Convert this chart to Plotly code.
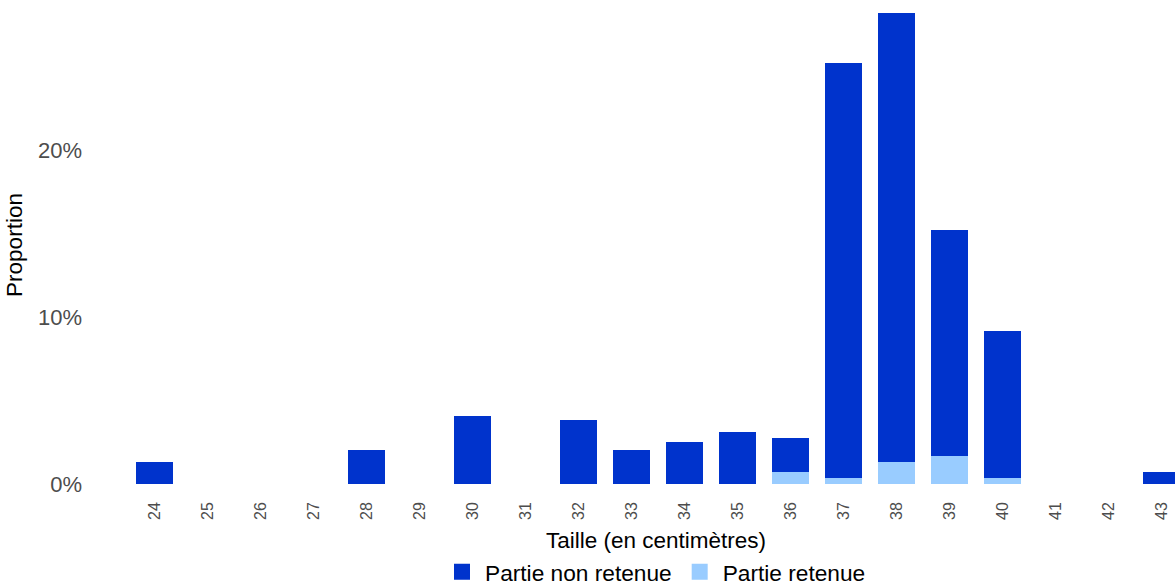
import plotly.graph_objects as go

# Sizes (cm) and proportions (%) per size class
tailles = [str(t) for t in range(24, 44)]
partie_non_retenue = [1.32, 0, 0, 0, 2.04, 0, 4.07, 0, 3.83, 2.04,
                      2.51, 3.11, 2.03, 24.84, 26.88, 13.52, 8.80, 0, 0, 0.72]
partie_retenue = [0, 0, 0, 0, 0, 0, 0, 0, 0, 0,
                  0, 0, 0.72, 0.36, 1.32, 1.68, 0.36, 0, 0, 0]
y_ticks = [0, 10, 20]
y_tick_labels = ["0%", "10%", "20%"]

dark = "#0033CC"
light = "#99CCFF"
font = "Liberation Sans, Arial, sans-serif"

fig = go.Figure()
fig.add_trace(go.Bar(x=tailles, y=partie_retenue, marker_color=light,
                     marker_line_width=0, showlegend=False, width=0.7))
fig.add_trace(go.Bar(x=tailles, y=partie_non_retenue, marker_color=dark,
                     marker_line_width=0, showlegend=False, width=0.7))

# Legend entries with square keys
fig.add_trace(go.Scatter(x=[None], y=[None], mode="markers", name="Partie non retenue",
                         marker=dict(symbol="square", size=17, color=dark)))
fig.add_trace(go.Scatter(x=[None], y=[None], mode="markers", name="Partie retenue",
                         marker=dict(symbol="square", size=17, color=light)))

plot_left, plot_w = 123, 1175 - 123
plot_bottom = 96
plot_h = 586 - plot_bottom

fig.update_layout(
    width=1175, height=586,
    margin=dict(l=plot_left, r=0, t=0, b=plot_bottom, autoexpand=False),
    barmode="stack",
    plot_bgcolor="white", paper_bgcolor="white",
    font=dict(family=font, color="black"),
    xaxis=dict(type="category", categoryorder="array", categoryarray=tailles,
               range=[-0.6, 19.25], tickangle=-90, showgrid=False, zeroline=False,
               showline=False, ticks="", ticklabelstandoff=8,
               tickfont=dict(size=16, color="#4D4D4D")),
    yaxis=dict(range=[-0.36, 28.98], tickvals=y_ticks, ticktext=y_tick_labels,
               showgrid=False, zeroline=False, showline=False, ticks="",
               ticklabelstandoff=40, tickfont=dict(size=22, color="#4D4D4D"),
               title=dict(text="Proportion", font=dict(size=22.5, color="black"),
                          standoff=9)),
    legend=dict(orientation="h", traceorder="normal", itemwidth=36,
                x=(655 - plot_left) / plot_w, xanchor="center",
                y=(586 - 572) / 586, yanchor="middle", yref="container",
                font=dict(size=22.7, color="black"), itemclick=False),
    annotations=[dict(text="Taille (en centimètres)", xref="paper", yref="paper",
                      x=(655.5 - plot_left) / plot_w, xanchor="center",
                      y=(586 - plot_bottom - 540) / plot_h, yanchor="middle",
                      showarrow=False, font=dict(size=22.5, color="black"))],
)

fig.write_html("out.html")
